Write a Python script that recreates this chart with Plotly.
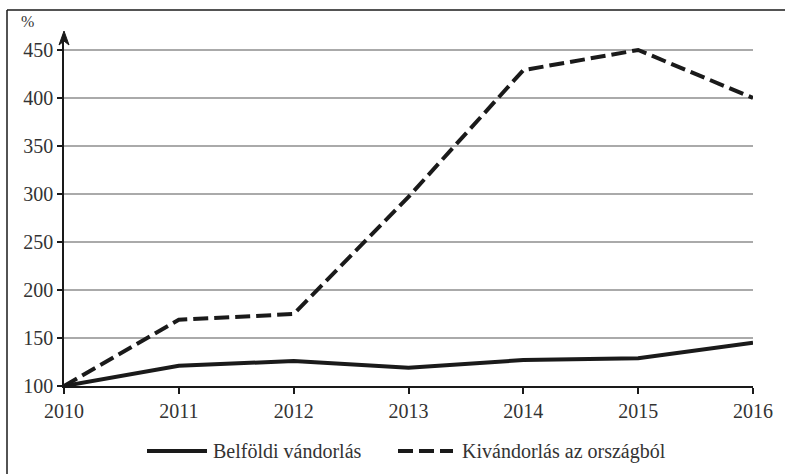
import plotly.graph_objects as go

years = [2010, 2011, 2012, 2013, 2014, 2015, 2016]
belfoldi = [100, 121, 126, 119, 127, 129, 145]
kivandorlas = [100, 169, 175, 297, 429, 450, 400]
y_ticks = [100, 150, 200, 250, 300, 350, 400, 450]
series_names = ["Belföldi vándorlás", "Kivándorlás az országból"]

FONT = "'Liberation Serif', 'Times New Roman', serif"
TXT = "#333333"
W, H = 785, 474
L, R, T, B = 64, 32, 35, 88
pw, ph = W - L - R, H - T - B
DASH = "15px,6px"


def px(x):
    return (x - L) / pw


def py(y):
    return (H - B - y) / ph


fig = go.Figure()
fig.add_trace(go.Scatter(x=years, y=belfoldi, mode="lines", name=series_names[0],
                         line=dict(color="#1a1a1a", width=4), showlegend=False))
fig.add_trace(go.Scatter(x=years, y=kivandorlas, mode="lines", name=series_names[1],
                         line=dict(color="#1a1a1a", width=4, dash=DASH), showlegend=False))

ymax = 100 + (H - B - T) / 0.96
fig.update_layout(
    width=W, height=H,
    margin=dict(l=L, r=R, t=T, b=B),
    paper_bgcolor="white", plot_bgcolor="white",
    font=dict(family=FONT, size=20, color=TXT),
    showlegend=False,
    xaxis=dict(range=[2010, 2016], tickvals=years, ticktext=[str(y) for y in years],
               showgrid=False, showline=True, linecolor="#1a1a1a", linewidth=1.5,
               ticks="outside", ticklen=6, tickcolor="#1a1a1a", tickwidth=1.5, zeroline=False,
               tickfont=dict(family=FONT, size=20, color=TXT)),
    yaxis=dict(range=[100, ymax], tickvals=y_ticks, ticktext=[str(v) for v in y_ticks],
               showgrid=True, gridcolor="#aaaaaa", gridwidth=1.5,
               showline=True, linecolor="#1a1a1a", linewidth=1.5,
               ticks="outside", ticklen=5, tickcolor="#1a1a1a", tickwidth=1.5, zeroline=False,
               tickfont=dict(family=FONT, size=20, color=TXT)),
)

# axis arrow head (triangle) and short extension of the axis line
ax0 = px(64)
fig.add_shape(type="line", xref="paper", yref="paper", x0=ax0, x1=ax0, y0=py(36), y1=py(42),
              line=dict(color="#1a1a1a", width=1.5))
fig.add_shape(type="path", xref="paper", yref="paper",
              path=f"M {px(64)} {py(31)} L {px(59)} {py(45)} L {px(64)} {py(41)} L {px(69)} {py(45)} Z",
              fillcolor="#1a1a1a", line=dict(color="#1a1a1a", width=1))
# % label
fig.add_annotation(x=px(27), y=py(21), xref="paper", yref="paper", xanchor="center", yanchor="middle",
                   text="%", showarrow=False, font=dict(family=FONT, size=16, color=TXT))
# border (top and left only)
fig.add_shape(type="line", xref="paper", yref="paper", x0=px(7), x1=px(790), y0=py(10), y1=py(10),
              line=dict(color="#1a1a1a", width=1.5))
fig.add_shape(type="line", xref="paper", yref="paper", x0=px(7), x1=px(7), y0=py(10), y1=py(480),
              line=dict(color="#1a1a1a", width=1.5))

# legend (manual)
ly = py(451)
fig.add_shape(type="line", xref="paper", yref="paper", x0=px(147), x1=px(207), y0=ly, y1=ly,
              line=dict(color="#1a1a1a", width=4))
fig.add_annotation(x=px(211), y=ly, xref="paper", yref="paper", xanchor="left", yanchor="middle",
                   text=series_names[0], showarrow=False, font=dict(family=FONT, size=20, color=TXT))
fig.add_shape(type="line", xref="paper", yref="paper", x0=px(398), x1=px(453), y0=ly, y1=ly,
              line=dict(color="#1a1a1a", width=4, dash=DASH))
fig.add_annotation(x=px(460), y=ly, xref="paper", yref="paper", xanchor="left", yanchor="middle",
                   text=series_names[1], showarrow=False, font=dict(family=FONT, size=20, color=TXT))

fig.write_html("out.html", config={"displayModeBar": False},
               post_script="document.body.style.margin='0';")
